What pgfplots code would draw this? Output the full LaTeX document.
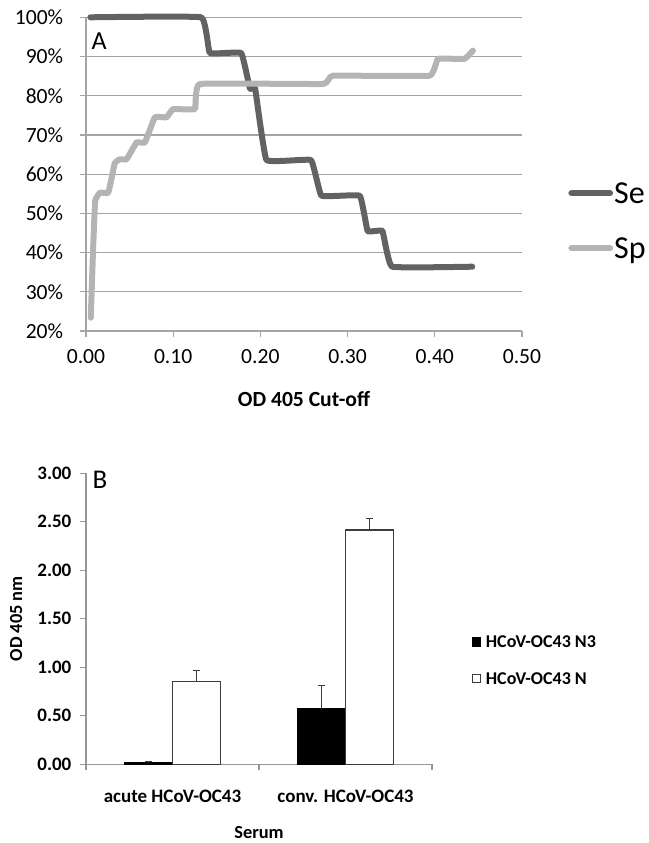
\documentclass[border=0pt]{standalone}
\usepackage{fontspec}
\setmainfont{Carlito}
\usepackage{pgfplots}
\pgfplotsset{compat=1.18}
\definecolor{se}{RGB}{98,98,98}
\definecolor{sp}{RGB}{180,180,180}
\definecolor{gridc}{RGB}{165,165,165}
\definecolor{axc}{RGB}{150,150,150}
\definecolor{barln}{RGB}{60,60,60}
\begin{document}
\begin{tikzpicture}
\path[use as bounding box] (0,0) rectangle (324.5pt,421.5pt);
% ---------------- Panel A
\begin{axis}[
  at={(43pt,256pt)}, anchor=south west,
  scale only axis, width=218pt, height=156.85pt,
  xmin=0, xmax=0.5, ymin=20, ymax=100,
  axis x line*=bottom, axis y line*=left,
  axis line style={gridc, line width=0.6pt, -},
  ymajorgrids, major grid style={gridc, line width=0.6pt},
  xtick={0,0.1,0.2,0.3,0.4,0.5}, ytick={20,30,40,50,60,70,80,90,100},
  xticklabel={\pgfmathprintnumber[fixed,fixed zerofill,precision=2]{\tick}},
  yticklabel={\pgfmathprintnumber{\tick}\%},
  /pgf/number format/assume math mode=true,
  tick align=outside, major tick length=3pt,
  tick style={gridc, line width=0.6pt},
  tick label style={font=\fontsize{10.8}{12}\selectfont},
  xticklabel style={anchor=center, yshift=-9.85pt},
  yticklabel style={xshift=-4.9pt},
  xlabel={\textbf{OD 405 Cut-off}},
  xlabel style={at={(axis description cs:0.5,-0.217)}, anchor=center, font=\fontsize{10.8}{12}\selectfont},
  legend style={draw=none, fill=none, at={(rel axis cs:1.1055,0.352)}, anchor=west,
    font=\fontsize{16}{18}\selectfont, row sep=15.2pt, inner sep=0pt,
    nodes={inner sep=0.5pt, text height=10.8pt, text depth=0.5pt}},
  legend cell align=left,
  legend image code/.code={\draw[#1, line width=3.4pt, line cap=round] (0pt,0pt) -- (19pt,0pt);},
  clip=false,
]
\addplot[se, line width=3pt, line cap=round, line join=round, smooth, tension=0.15] coordinates {
 (0.005,100) (0.132,100) (0.142,90.9) (0.178,90.9) (0.188,81.8) (0.194,81.8)
 (0.207,63.6) (0.258,63.6) (0.270,54.5) (0.314,54.5) (0.323,45.5) (0.340,45.5)
 (0.351,36.4) (0.443,36.4)};
\addlegendentry{Se}
\addplot[sp, line width=3pt, line cap=round, line join=round, smooth, tension=0.15] coordinates {
 (0.0055,23.4) (0.0080,40.0) (0.0105,53.2) (0.016,55.3) (0.0256,55.3) (0.033,62.8)
 (0.039,63.8) (0.0466,63.8) (0.058,68.1) (0.0676,68.1) (0.079,74.5) (0.0924,74.5)
 (0.100,76.6) (0.125,76.6) (0.1306,83.0) (0.272,83.0) (0.283,85.1) (0.394,85.1)
 (0.4036,89.4) (0.434,89.4) (0.4437,91.5)};
\addlegendentry{Sp}
\node[anchor=center, font=\fontsize{13}{15}\selectfont] at (rel axis cs:0.03,0.923) {A};
\end{axis}
% ---------------- Panel B
\begin{axis}[
  at={(43pt,39.35pt)}, anchor=south west,
  scale only axis, width=173pt, height=145.5pt,
  xmin=0.5, xmax=2.5, ymin=0, ymax=3,
  axis x line*=bottom, axis y line*=left,
  axis line style={axc, line width=0.6pt, -},
  ytick={0,0.5,1,1.5,2,2.5,3},
  yticklabel={\pgfmathprintnumber[fixed,fixed zerofill,precision=2]{\tick}},
  /pgf/number format/assume math mode=true,
  xtick={0.5,1.5,2.5}, xticklabels={},
  extra x ticks={1,2},
  extra x tick labels={acute HCoV-OC43, conv. HCoV-OC43},
  extra x tick style={major tick length=0pt, xticklabel style={anchor=center, yshift=-16.2pt}},
  tick align=outside, major tick length=3pt,
  tick style={axc, line width=0.6pt},
  tick label style={font=\bfseries\fontsize{9.5}{11}\selectfont},
  yticklabel style={xshift=-0.8pt},
  xlabel={\textbf{Serum}},
  xlabel style={at={(axis description cs:0.5,-0.236)}, anchor=center, font=\fontsize{9.2}{11}\selectfont},
  ylabel={\textbf{OD 405 nm}},
  ylabel style={at={(axis description cs:-0.202,0.5)}, anchor=center, font=\fontsize{9.2}{11}\selectfont},
  ybar=0pt, bar width=24pt,
  legend style={draw=none, fill=none, at={(rel axis cs:1.1147,0.3584)}, anchor=west,
    font=\bfseries\fontsize{9}{11}\selectfont, row sep=9.5pt, inner sep=0pt,
    nodes={inner sep=1pt, text height=6.3pt, text depth=0.5pt}},
  legend cell align=left,
  clip=false,
]
\addplot[fill=black, draw=black, line width=0.5pt,
  legend image code/.code={\draw[fill=black, draw=black, line width=0.4pt] (0pt,-2.1pt) rectangle (4.2pt,2.1pt); \path (5.4pt,0pt);},
  error bars/.cd, y dir=plus, y explicit,
  error bar style={barln, line width=0.6pt},
  error mark options={rotate=90, mark size=1.8pt, barln, line width=0.6pt}]
  coordinates {(1,0.02) +- (0,0.008) (2,0.572) +- (0,0.24)};
\addlegendentry{HCoV-OC43 N3}
\addplot[fill=white, draw=barln, line width=0.6pt,
  legend image code/.code={\draw[fill=white, draw=barln, line width=0.4pt] (0pt,-2.1pt) rectangle (4.2pt,2.1pt); \path (5.4pt,0pt);},
  error bars/.cd, y dir=plus, y explicit,
  error bar style={barln, line width=0.6pt},
  error mark options={rotate=90, mark size=1.8pt, barln, line width=0.6pt}]
  coordinates {(1,0.855) +- (0,0.11) (2,2.415) +- (0,0.115)};
\addlegendentry{HCoV-OC43 N}
\node[anchor=center, font=\fontsize{13.5}{15}\selectfont] at (rel axis cs:0.0405,0.977) {B};
\end{axis}
\end{tikzpicture}
\end{document}
